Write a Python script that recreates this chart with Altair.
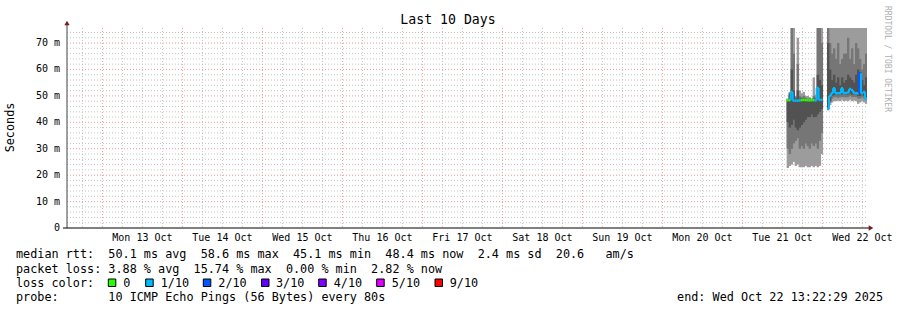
import altair as alt
import pandas as pd

# ---------------- data ----------------
START = "2025-10-12 13:22:29"
END = "2025-10-22 13:22:29"
BIN_MINUTES = 36

title_text = "Last 10 Days"
y_title = "Seconds"
watermark = "RRDTOOL / TOBI OETIKER"

day_labels = ["Mon 13 Oct", "Tue 14 Oct", "Wed 15 Oct", "Thu 16 Oct", "Fri 17 Oct",
              "Sat 18 Oct", "Sun 19 Oct", "Mon 20 Oct", "Tue 21 Oct", "Wed 22 Oct"]
day_noons = ["2025-10-13 12:00", "2025-10-14 12:00", "2025-10-15 12:00", "2025-10-16 12:00",
             "2025-10-17 12:00", "2025-10-18 12:00", "2025-10-19 12:00", "2025-10-20 12:00",
             "2025-10-21 12:00", "2025-10-22 12:00"]
day_midnights = ["2025-10-13", "2025-10-14", "2025-10-15", "2025-10-16", "2025-10-17",
                 "2025-10-18", "2025-10-19", "2025-10-20", "2025-10-21", "2025-10-22"]

y_ticks = [0, 10, 20, 30, 40, 50, 60, 70]
y_tick_labels = ["0\u00a0\u00a0", "10 m", "20 m", "30 m", "40 m", "50 m", "60 m", "70 m"]

# bin start times (two segments of measurements)
bin_times = [
    "2025-10-21 13:16", "2025-10-21 13:52", "2025-10-21 14:28", "2025-10-21 15:04",
    "2025-10-21 15:40", "2025-10-21 16:16", "2025-10-21 16:52", "2025-10-21 17:28",
    "2025-10-21 18:04", "2025-10-21 18:40", "2025-10-21 19:16", "2025-10-21 19:52",
    "2025-10-21 20:28", "2025-10-21 21:04", "2025-10-21 21:40", "2025-10-21 22:16",
    "2025-10-21 22:52", "2025-10-21 23:28",
    "2025-10-22 01:22", "2025-10-22 01:58", "2025-10-22 02:34", "2025-10-22 03:10",
    "2025-10-22 03:46", "2025-10-22 04:22", "2025-10-22 04:58", "2025-10-22 05:34",
    "2025-10-22 06:10", "2025-10-22 06:46", "2025-10-22 07:22", "2025-10-22 07:58",
    "2025-10-22 08:34", "2025-10-22 09:10", "2025-10-22 09:46", "2025-10-22 10:22",
    "2025-10-22 10:58", "2025-10-22 11:34", "2025-10-22 12:10", "2025-10-22 12:46",
]
segment = [1] * 18 + [2] * 20

# smoke bands (ms)
outer_lo = [22.7, 23.5, 24.0, 25.0, 23.5, 24.0, 23.0, 23.0, 23.0, 23.5, 23.0, 23.0, 23.5, 23.0, 23.5, 23.0, 23.5, 28.0,
            44.5, 46.5, 47.5, 48.0, 48.0, 48.2, 48.0, 48.5, 48.0, 48.2, 48.0, 48.5, 48.0, 48.2, 48.0, 47.0, 47.5, 48.0, 47.5, 47.0]
outer_hi = [49.0, 51.5, 80.0, 80.0, 50.0, 72.0, 52.0, 51.0, 51.5, 50.0, 50.0, 49.5, 49.0, 57.0, 50.5, 80.0, 80.0, 80.0,
            80.0, 80.0, 80.0, 80.0, 80.0, 80.0, 80.0, 80.0, 80.0, 80.0, 80.0, 80.0, 80.0, 80.0, 80.0, 80.0, 80.0, 80.0, 80.0, 80.0]
mid_lo = [30.0, 28.0, 30.0, 32.0, 33.0, 34.0, 30.0, 31.0, 30.0, 32.0, 31.0, 30.0, 32.0, 31.0, 32.0, 30.0, 33.0, 36.0,
          45.0, 47.5, 49.0, 49.5, 49.5, 49.3, 49.5, 49.6, 49.5, 49.5, 49.5, 50.0, 49.5, 49.6, 49.5, 49.0, 49.0, 49.5, 49.0, 48.5]
mid_hi = [48.8, 50.5, 76.0, 66.0, 49.5, 62.0, 50.0, 49.5, 50.0, 49.3, 49.0, 49.0, 48.9, 50.0, 49.5, 76.0, 76.0, 70.0,
          76.0, 70.0, 66.0, 68.0, 64.0, 70.0, 62.0, 64.0, 66.0, 66.0, 72.0, 64.0, 68.0, 62.0, 70.0, 68.0, 64.0, 60.0, 62.0, 66.0]
inner_lo = [40.0, 38.0, 39.0, 41.0, 38.0, 37.0, 38.0, 39.0, 40.0, 41.0, 42.0, 42.0, 43.0, 42.0, 42.0, 43.0, 44.0, 45.0,
            45.0, 48.0, 50.0, 50.3, 50.5, 50.3, 50.5, 50.6, 50.5, 50.5, 50.5, 51.0, 50.5, 50.6, 50.5, 50.0, 50.0, 50.5, 50.0, 49.5]
inner_hi = [48.6, 51.0, 60.0, 52.0, 49.0, 52.0, 49.0, 49.0, 49.0, 48.8, 48.8, 48.8, 48.7, 49.0, 49.0, 58.0, 56.0, 54.0,
            70.0, 60.0, 56.0, 58.0, 55.0, 57.0, 54.0, 57.0, 55.0, 56.0, 58.0, 57.0, 56.0, 55.0, 58.0, 60.0, 59.0, 56.0, 54.0, 57.0]

median = [48.4, 48.4, 51.5, 48.2, 48.2, 48.2, 48.3, 48.4, 48.5, 48.4, 48.4, 48.3, 48.4, 48.4, 48.3, 53.0, 48.5, 48.5,
          45.1, 50.0, 51.0, 52.9, 51.0, 51.0, 51.0, 52.9, 51.0, 51.1, 51.3, 52.6, 52.2, 51.2, 51.0, 51.0, 58.6, 51.0, 51.5, 48.8]
loss = ["0", "0", "1/10", "1/10", "1/10", "1/10", "1/10", "0", "0", "0", "0", "0", "0", "0", "1/10", "1/10", "1/10", "1/10",
        "1/10", "1/10", "1/10", "1/10", "1/10", "1/10", "1/10", "1/10", "1/10", "1/10", "1/10", "1/10", "1/10", "1/10",
        "1/10", "1/10", "2/10", "1/10", "1/10", "1/10"]

loss_labels = ["0", "1/10", "2/10", "3/10", "4/10", "5/10", "9/10"]
loss_colors = ["#26ff00", "#00b8ff", "#0059ff", "#5e00ff", "#7e00ff", "#dd00ff", "#ff0000"]

line_rtt = "median rtt:  50.1 ms avg  58.6 ms max  45.1 ms min  48.4 ms now  2.4 ms sd  20.6   am/s"
line_loss = "packet loss: 3.88 % avg  15.74 % max  0.00 % min  2.82 % now"
line_color = "loss color:"
line_probe = "probe:       10 ICMP Echo Pings (56 Bytes) every 80s"
line_end = "end: Wed Oct 22 13:22:29 2025"

# ---------------- layout (pixels) ----------------
W, H = 800, 200
PAD = {"left": 67, "top": 28, "right": 30, "bottom": 82}
MONO = "DejaVu Sans Mono"
legend_box_left = [108.3, 145.7, 203.3, 261.5, 318.7, 376.7, 435.0]   # absolute px
legend_text_left = [123.3, 160.7, 218.3, 276.0, 333.7, 391.7, 449.7]  # absolute px

# ---------------- derived tables ----------------
start = pd.Timestamp(START)
hrs = lambda s: (pd.Timestamp(s) - start) / pd.Timedelta(hours=1)

df = pd.DataFrame({
    "h0": [hrs(t) for t in bin_times],
    "seg": segment,
    "olo": outer_lo, "ohi": outer_hi,
    "mlo": mid_lo, "mhi": mid_hi,
    "ilo": inner_lo, "ihi": inner_hi,
    "med": median, "loss": loss,
})
df["h1"] = df["h0"] + BIN_MINUTES / 60.0
df["h1s"] = df["h1"] + 0.12  # tiny overlap so adjacent columns have no seams
df["prev"] = df.groupby("seg")["med"].shift(1)
vdf = df.dropna(subset=["prev"])
vdf = vdf[vdf["prev"] != vdf["med"]]

total_h = hrs(END)
mid_h = [hrs(m) for m in day_midnights]
minor_v = []
h = mid_h[0]
while h - 6 > 0:
    h -= 6
while h < total_h:
    if all(abs(h - m) > 0.01 for m in mid_h):
        minor_v.append(h)
    h += 6
major_h = [v for v in range(10, 76, 10)]
minor_h = [v for v in range(2, 76, 2) if v % 10 != 0]

xs = alt.Scale(domain=[0, total_h], nice=False, zero=False)
ys = alt.Scale(domain=[0, 75.7], nice=False, zero=False)
cs = alt.Scale(domain=loss_labels, range=loss_colors)


def X(f):
    return alt.X(f, type="quantitative", scale=xs, axis=None)


def Y(f):
    return alt.Y(f, type="quantitative", scale=ys, axis=None)


layers = []

# grid
layers.append(alt.Chart(pd.DataFrame({"v": minor_v})).mark_rule(
    color="#c4c4c4", strokeDash=[1, 2], strokeWidth=1).encode(
    x=X("v"), y=alt.value(0), y2=alt.value(H)))
layers.append(alt.Chart(pd.DataFrame({"v": minor_h})).mark_rule(
    color="#c4c4c4", strokeDash=[1, 2], strokeWidth=1).encode(
    y=Y("v"), x=alt.value(0), x2=alt.value(W)))
layers.append(alt.Chart(pd.DataFrame({"v": mid_h})).mark_rule(
    color="#eb9a9a", strokeDash=[1, 2], strokeWidth=1).encode(
    x=X("v"), y=alt.value(0), y2=alt.value(H)))
layers.append(alt.Chart(pd.DataFrame({"v": major_h})).mark_rule(
    color="#eb9a9a", strokeDash=[1, 2], strokeWidth=1).encode(
    y=Y("v"), x=alt.value(0), x2=alt.value(W)))

# smoke
for lo, hi, col in [("olo", "ohi", "#9c9c9c"), ("mlo", "mhi", "#767676"), ("ilo", "ihi", "#525252")]:
    layers.append(alt.Chart(df).mark_rect(color=col, clip=True).encode(
        x=X("h0"), x2="h1s", y=Y(lo), y2=hi))

# median line coloured by loss
layers.append(alt.Chart(df).mark_rule(strokeWidth=2.5, clip=True).encode(
    x=X("h0"), x2="h1", y=Y("med"),
    color=alt.Color("loss:N", scale=cs, legend=None)))
layers.append(alt.Chart(vdf).mark_rule(strokeWidth=2, clip=True).encode(
    x=X("h0"), y=Y("prev"), y2="med",
    color=alt.Color("loss:N", scale=cs, legend=None)))

one = pd.DataFrame({"a": [0]})

# axes lines and arrows
layers.append(alt.Chart(one).mark_rule(color="#444444", strokeWidth=1).encode(
    x=alt.value(0), y=alt.value(-3), y2=alt.value(H)))
layers.append(alt.Chart(one).mark_rule(color="#000000", strokeWidth=1).encode(
    x=alt.value(-4), x2=alt.value(W + 3), y=alt.value(H)))
layers.append(alt.Chart(one).mark_point(shape="triangle-up", filled=True, color="#7a1c1c",
                                        size=28, opacity=1).encode(
    x=alt.value(0), y=alt.value(-5)))
layers.append(alt.Chart(one).mark_point(shape="triangle-right", filled=True, color="#7a1c1c",
                                        size=28, opacity=1).encode(
    x=alt.value(W + 4), y=alt.value(H)))

# tick labels
layers.append(alt.Chart(pd.DataFrame({"v": y_ticks, "t": y_tick_labels})).mark_text(
    font=MONO, fontSize=10, align="right", baseline="middle", color="#000000").encode(
    y=Y("v"), x=alt.value(-7), text="t:N"))
layers.append(alt.Chart(pd.DataFrame({"v": [hrs(n) for n in day_noons], "t": day_labels})).mark_text(
    font=MONO, fontSize=10, align="center", baseline="alphabetic", color="#000000").encode(
    x=X("v"), y=alt.value(H + 13), text="t:N"))


def txt(s, x, y, size, align="left", baseline="alphabetic", angle=0, color="#000000"):
    return alt.Chart(pd.DataFrame({"t": [s.replace(" ", "\u00a0")]})).mark_text(
        font=MONO, fontSize=size, align=align, baseline=baseline, angle=angle, color=color).encode(
        x=alt.value(x - PAD["left"]), y=alt.value(y - PAD["top"]), text="t:N")


layers.append(txt(title_text, 448, 24, 13.2, align="center"))
layers.append(txt(y_title, 10, 127.5, 11.8, align="center", baseline="middle", angle=270))
layers.append(txt(watermark, 887, 59, 8, align="center", baseline="middle", angle=90, color="#b0b0b0"))

layers.append(txt(line_rtt, 16, 258.3, 11.8))
layers.append(txt(line_loss, 16, 272.5, 11.8))
layers.append(txt(line_color, 16, 286.7, 11.8))
layers.append(txt(line_probe, 16, 301, 11.8))
layers.append(txt(line_end, 883, 301, 11.8, align="right"))

box_df = pd.DataFrame({
    "loss": loss_labels,
    "bx0": [b - PAD["left"] for b in legend_box_left],
    "bx1": [b - PAD["left"] + 7.5 for b in legend_box_left],
    "tx": [t - PAD["left"] for t in legend_text_left],
})
layers.append(alt.Chart(box_df).mark_rect(stroke="#000000", strokeWidth=1).encode(
    x=alt.X("bx0:Q", scale=None), x2="bx1:Q",
    y=alt.value(279 - PAD["top"]), y2=alt.value(286.5 - PAD["top"]),
    color=alt.Color("loss:N", scale=cs, legend=None)))
layers.append(alt.Chart(box_df).mark_text(font=MONO, fontSize=11.8, align="left",
                                          baseline="alphabetic", color="#000000").encode(
    x=alt.X("tx:Q", scale=None), y=alt.value(286.7 - PAD["top"]), text="loss:N"))

chart = alt.layer(*layers).properties(
    width=W, height=H, padding=PAD,
    autosize=alt.AutoSizeParams(type="none"),
    background="#ffffff",
).configure_view(strokeWidth=0)

chart.save("out.html", embed_options={"renderer": "svg", "actions": False})
